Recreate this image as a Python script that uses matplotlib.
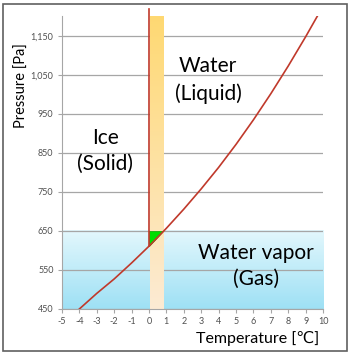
import numpy as np
import matplotlib
matplotlib.use("Agg")
import matplotlib.pyplot as plt
from matplotlib.patches import Polygon, Rectangle

plt.rcParams['font.family'] = ['Lato', 'DejaVu Sans']

# saturation vapour pressure curve
temp = [-4.0, -3, -2, -1, 0, 1, 2, 3, 4, 5, 6, 7, 8, 9, 9.7]
pres = [450, 490, 527, 568, 611, 657, 706, 758, 813, 872, 935, 1002, 1073, 1148, 1203]

# melting line at 0 C, liquid band, gas band, triple-point wedge
melt_x = [0, 0]
melt_y = [611, 1218]
band_x = [0.05, 0.8]
band_y = [450, 1200]
gas_y = [450, 650]
wedge = [(0, 611), (0, 650), (0.78, 650)]

xticks = list(range(-5, 11))
yticks = [450, 550, 650, 750, 850, 950, 1050, 1150]
ylabels = ['450', '550', '650', '750', '850', '950', '1,050', '1,150']

fig = plt.figure(figsize=(3.5, 3.55), dpi=100)
ax = fig.add_axes([0.177, 0.1296, 0.746, 0.824])
ax.set_xlim(-5, 10)
ax.set_ylim(450, 1200)

# blue gas region with gradient
grad = np.linspace(0, 1, 100).reshape(-1, 1)
top = np.array([0.89, 0.97, 0.99])
bot = np.array([0.62, 0.88, 0.96])
img = top + (bot - top) * grad[:, :, None]
ax.imshow(img, extent=[-5, 10, gas_y[0], gas_y[1]], aspect='auto', zorder=0, origin='upper')

ax.grid(axis='y', color='#a6a6a6', lw=0.9, zorder=1)
ax.set_axisbelow(True)

# orange liquid band with gradient
otop = np.array([1.0, 0.85, 0.45])
obot = np.array([0.99, 0.92, 0.83])
oimg = otop + (obot - otop) * grad[:, :, None]
ax.imshow(oimg, extent=[band_x[0], band_x[1], band_y[0], band_y[1]], aspect='auto',
          zorder=2, origin='upper')

ax.add_patch(Polygon(wedge, closed=True, facecolor='#00dd00', edgecolor='#00a000', lw=0.5, zorder=3))
ax.plot(melt_x, melt_y, color='#c0392b', lw=1.2, zorder=4, clip_on=False)
ax.plot(temp, pres, color='#c0392b', lw=1.2, zorder=4)

ax.set_xticks(xticks)
ax.set_xticklabels([str(t) for t in xticks], fontsize=6.5, color='#505050')
ax.set_yticks(yticks)
ax.set_yticklabels(ylabels, fontsize=6.5, color='#505050')
ax.tick_params(length=3, color='#a6a6a6', pad=3)
for s in ['top', 'right']:
    ax.spines[s].set_visible(False)
for s in ['left', 'bottom']:
    ax.spines[s].set_color('#a6a6a6')

ax.text(-2.5, 855, 'Ice\n(Solid)', fontsize=15, ha='center', va='center', linespacing=1.4)
ax.text(3.4, 1037, 'Water\n(Liquid)', fontsize=15, ha='center', va='center', linespacing=1.4)
ax.text(6.15, 560, 'Water vapor\n(Gas)', fontsize=15, ha='center', va='center', linespacing=1.4)

fig.text(22 / 350, 1 - 86 / 355, 'Pressure [Pa]', rotation=90, fontsize=10.5, ha='center', va='center')
fig.text(258 / 350, 1 - 339 / 355, 'Temperature [℃]', fontsize=11.5, ha='center', va='center',
         family=['Lato', 'DejaVu Sans'])

fig.patches.append(Rectangle((3 / 350, 4 / 355), 344 / 350, 347 / 355, transform=fig.transFigure,
                             fill=False, edgecolor='#606060', lw=1.2))

fig.savefig('out.png', dpi=100)
